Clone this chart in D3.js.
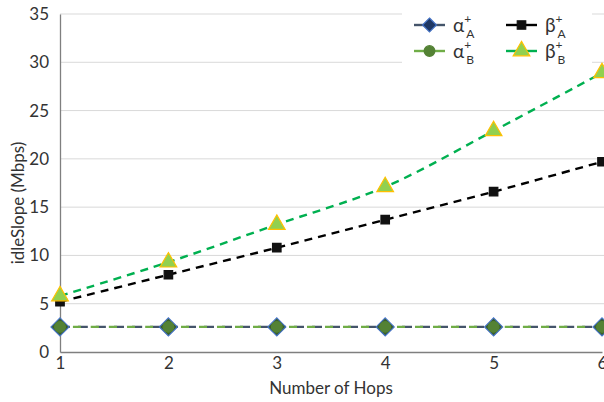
<html>
<head>
<meta charset="utf-8"/>
<script src="https://cdnjs.cloudflare.com/ajax/libs/d3/7.8.5/d3.min.js"></script>
<style>
  body { margin: 0; background: #fff; }
  text { font-family: Lato, "Open Sans", sans-serif; fill: #333; }
</style>
</head>
<body>
<div id="chart"></div>
<script>
// hops on the x axis
var hops = [1, 2, 3, 4, 5, 6];
// idleSlope values (Mbps)
var alphaA = [2.6, 2.6, 2.6, 2.6, 2.6, 2.6];
var alphaB = [2.6, 2.6, 2.6, 2.6, 2.6, 2.6];
var betaA  = [5.2, 8.0, 10.8, 13.7, 16.6, 19.7];
var betaB  = [5.8, 9.3, 13.2, 17.1, 22.9, 28.9];
var yTicks = [0, 5, 10, 15, 20, 25, 30, 35];

var W = 604, H = 402,
    m = {left: 60, right: 2, top: 14, bottom: 50};

var x = d3.scaleLinear().domain([1, 6]).range([m.left, W - m.right]);
var y = d3.scaleLinear().domain([0, 35]).range([H - m.bottom, m.top]);

var svg = d3.select("#chart").append("svg")
    .attr("width", W).attr("height", H);

// gridlines
svg.append("g").selectAll("line")
    .data(yTicks.slice(1))
  .enter().append("line")
    .attr("x1", m.left).attr("x2", W)
    .attr("y1", d => y(d)).attr("y2", d => y(d))
    .attr("stroke", "#d9d9d9").attr("stroke-width", 1);

// axes
var yAxis = svg.append("g")
    .attr("transform", "translate(" + m.left + ",0)")
    .call(d3.axisLeft(y).tickValues(yTicks).tickSize(0).tickPadding(11));
var xAxis = svg.append("g")
    .attr("transform", "translate(0," + y(0) + ")")
    .call(d3.axisBottom(x).tickValues(hops).tickFormat(d3.format("d")).tickSize(0).tickPadding(5));
[yAxis, xAxis].forEach(function(a) {
  a.select(".domain").attr("stroke", "#7f7f7f").attr("stroke-width", 1.3);
  a.selectAll("text").style("font-size", "17px").attr("fill", "#333");
});

svg.append("text")
    .attr("transform", "translate(18," + ((m.top + y(0)) / 2 + 20) + ") rotate(-90)")
    .attr("text-anchor", "middle").attr("dy", "0.35em")
    .style("font-size", "17px").text("idleSlope (Mbps)");
svg.append("text")
    .attr("x", 331).attr("y", 394)
    .attr("text-anchor", "middle")
    .style("font-size", "17px").text("Number of Hops");

var series = [
  {name: "α", sub: "A", vals: alphaA, line: "#44546a", marker: "diamond", fill: "#3a5f2a", edge: "#4472c4", dash: "10,8"},
  {name: "α", sub: "B", vals: alphaB, line: "#70ad47", marker: "circle", fill: "#548235", edge: "#548235", dash: "8,10", offset: 5},
  {name: "β", sub: "A", vals: betaA, line: "#000000", marker: "square", fill: "#111", edge: "#111", dash: "8,6"},
  {name: "β", sub: "B", vals: betaB, line: "#00b050", marker: "triangle", fill: "#92d050", edge: "#ffc000", dash: "8,6"}
];

function symbolFor(s) {
  if (s.marker == "diamond") return "M0,-9L9,0L0,9L-9,0Z";
  if (s.marker == "circle") return d3.symbol().type(d3.symbolCircle).size(90)();
  if (s.marker == "square") return d3.symbol().type(d3.symbolSquare).size(72)();
  return d3.symbol().type(d3.symbolTriangle).size(120)();
}

var line = d3.line().x((d, i) => x(hops[i])).y(d => y(d)).curve(d3.curveCatmullRom);

series.forEach(function(s) {
  svg.append("path")
      .datum(s.vals)
      .attr("d", line)
      .attr("fill", "none")
      .attr("stroke", s.line).attr("stroke-width", 2.4)
      .attr("stroke-dasharray", s.dash)
      .attr("stroke-dashoffset", s.offset || 0);
});
series.forEach(function(s) {
  var p = symbolFor(s);
  svg.append("g").selectAll("path")
      .data(s.vals)
    .enter().append("path")
      .attr("d", p)
      .attr("transform", (d, i) => "translate(" + x(hops[i]) + "," + y(d) + ")")
      .attr("fill", s.fill).attr("stroke", s.edge).attr("stroke-width", 1.2);
});

// legend
var lg = svg.append("g");
lg.append("rect").attr("x", 402).attr("y", 8).attr("width", 190).attr("height", 64).attr("fill", "#fff");
series.forEach(function(s) {
  var col = s.name == "α" ? 0 : 1,
      row = s.sub == "A" ? 0 : 1;
  var lx = 414 + col * 92, ly = 25 + row * 26;
  lg.append("line").attr("x1", lx).attr("x2", lx + 31).attr("y1", ly).attr("y2", ly)
      .attr("stroke", s.line).attr("stroke-width", 2.4);
  lg.append("path").attr("d", s.marker == "diamond" ? "M0,-7L7,0L0,7L-7,0Z" : symbolFor(s))
      .attr("transform", "translate(" + (lx + 15.5) + "," + ly + ")")
      .attr("fill", s.marker == "diamond" ? "#1f3864" : s.fill)
      .attr("stroke", s.edge).attr("stroke-width", 1.2);
  var t = lg.append("text").attr("x", lx + 39).attr("y", ly + 7).style("font-size", "19px");
  t.append("tspan").text(s.name);
  t.append("tspan").attr("dy", -9).style("font-size", "12px").text("+");
  t.append("tspan").attr("dy", 15).attr("dx", -5).style("font-size", "12px").text(s.sub);
});
</script>
</body>
</html>
